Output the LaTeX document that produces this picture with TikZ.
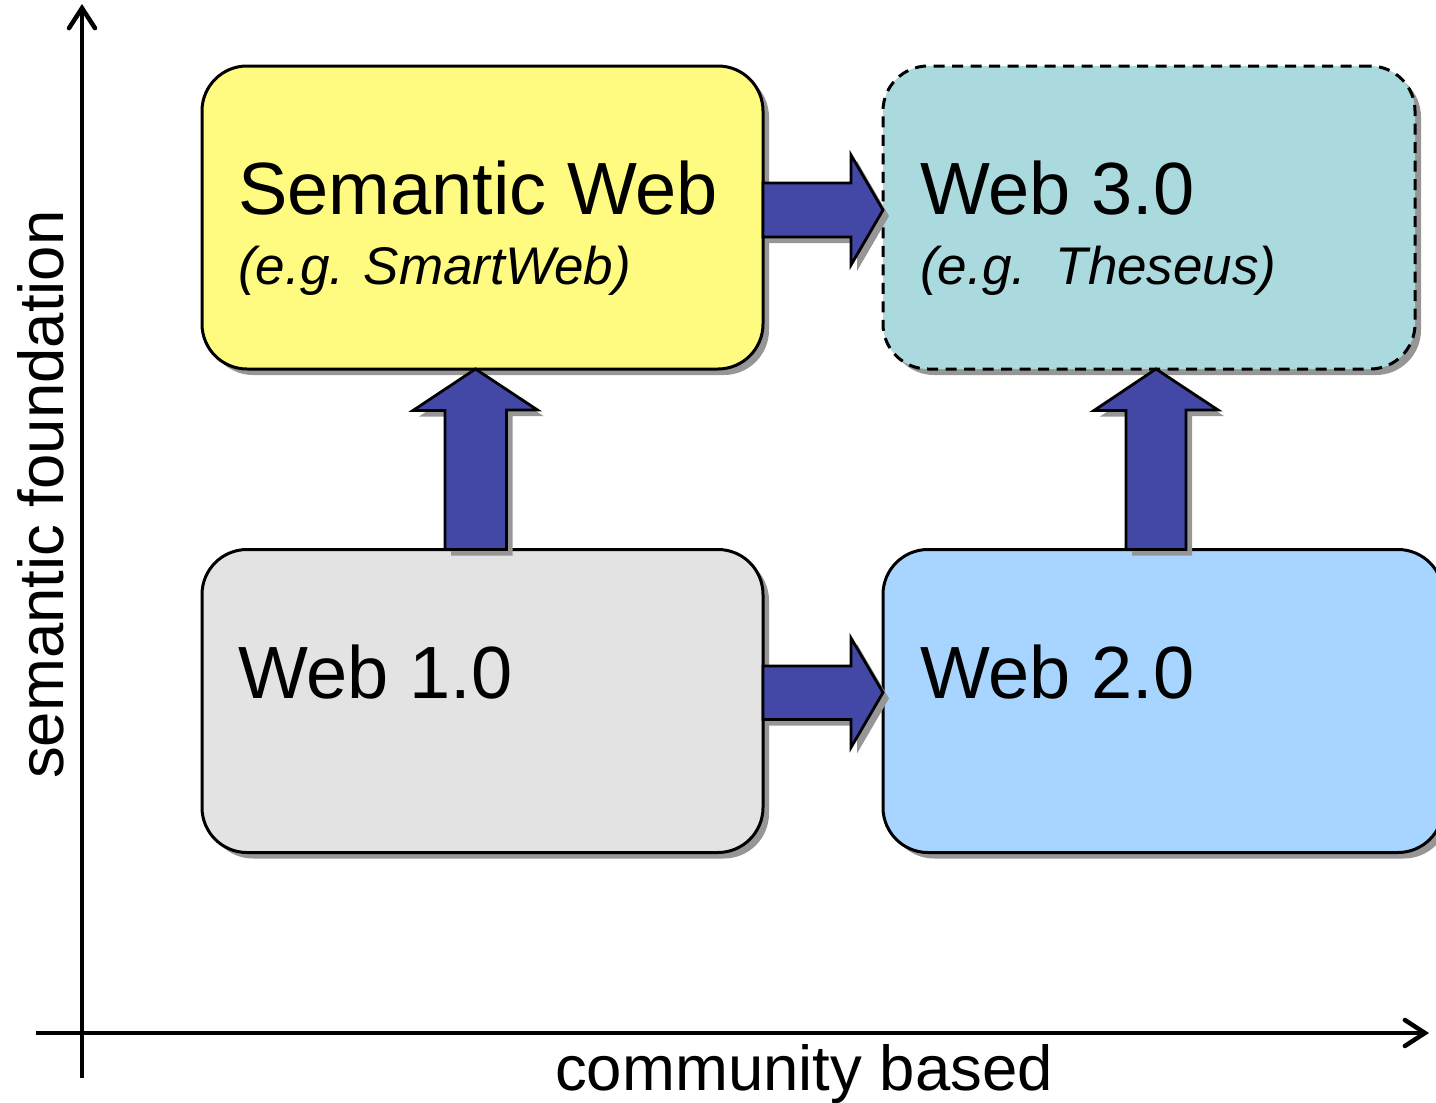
\documentclass[tikz,border=0pt]{standalone}
\usepackage{fontspec}
\setmainfont{Liberation Sans}
\usetikzlibrary{arrows.meta,shadows,calc}
\definecolor{semyellow}{RGB}{255,251,128}
\definecolor{webteal}{RGB}{170,218,222}
\definecolor{webgray}{RGB}{227,227,227}
\definecolor{webblue}{RGB}{168,213,255}
\definecolor{arrowblue}{RGB}{67,72,167}
\definecolor{shadowgray}{RGB}{150,150,150}
\begin{document}
\begin{tikzpicture}[x=1pt,y=-1pt,
  box/.style={draw=black, line width=3pt, rounded corners=45pt, inner sep=0pt, outer sep=0pt,
    minimum height=303pt,
    drop shadow={shadow xshift=6pt, shadow yshift=-6pt, fill=shadowgray, opacity=1}},
  blockarrow/.style={draw=black, fill=arrowblue, line width=2.8pt, line join=miter,
    drop shadow={shadow xshift=6pt, shadow yshift=-6pt, fill=shadowgray, opacity=1}},
  axis/.style={line width=4.5pt, -{Straight Barb[length=20pt,width=26pt,line cap=round]}},
  bigtxt/.style={anchor=base west, inner sep=0pt, font=\fontsize{74}{80}\selectfont},
  smalltxt/.style={anchor=base west, inner sep=0pt, font=\fontsize{53}{60}\selectfont\itshape},
  axtxt/.style={anchor=base west, inner sep=0pt, font=\fontsize{63.5}{70}\selectfont}]
\clip (0,0) rectangle (1436,1103);

% axes
\coordinate (ybot) at (82,1078);
\coordinate (ytop) at (82,4);
\coordinate (xl) at (36,1033);
\coordinate (xr) at (1429,1033);
\draw[axis] (ybot) -- (ytop);
\draw[axis] (xl) -- (xr);
\node[axtxt, rotate=90] (ylab) at (63,779) {semantic foundation};
\node[axtxt] (xlab) at (555,1090) {community based};

% boxes
\node[box, fill=semyellow, minimum width=561pt] (sw) at (482.5,217.5) {};
\node[box, fill=webteal, dash pattern=on 11pt off 7.5pt, minimum width=532pt] (w3) at (1149,217.5) {};
\node[box, fill=webgray, minimum width=561pt] (w1) at (482.5,701) {};
\node[box, fill=webblue, minimum width=560pt] (w2) at (1163,701) {};

% block arrows
\draw[blockarrow] ($(sw.east)+(0,-34.5)$) -- ++(88,0) -- ++(0,-28) -- ($(w3.west)+(0,-7.5)$)
  -- ++(-32,55) -- ++(0,-28) -- ($(sw.east)+(0,19.5)$) -- cycle;
\draw[blockarrow] ($(w1.east)+(0,-35)$) -- ++(88,0) -- ++(0,-28) -- ($(w2.west)+(0,-8.5)$)
  -- ++(-32,55) -- ++(0,-28) -- ($(w1.east)+(0,18.5)$) -- cycle;
\draw[blockarrow] ($(w1.north)+(-37.5,0)$) -- ++(0,-139) -- ++(-32,0) -- ($(sw.south)+(-7,0)$)
  -- ++(62,41) -- ++(-31,0) -- ($(w1.north)+(24,0)$) -- cycle;
\draw[blockarrow] ($(w2.north)+(-37,0)$) -- ++(0,-139) -- ++(-32,0) -- ($(w3.south)+(7,0)$)
  -- ++(62,41) -- ++(-32,0) -- ($(w2.north)+(23,0)$) -- cycle;

% texts
\node[bigtxt] (t1) at (238,214) {Semantic Web};
\node[smalltxt] (t1b) at (238,284) {(e.g. SmartWeb)};
\node[bigtxt] (t3) at (920,214) {Web 3.0};
\node[smalltxt] (t3b) at (920,284) {(e.g.\ \ Theseus)};
\node[bigtxt] (t2) at (238,698) {Web 1.0};
\node[bigtxt] (t4) at (920,698) {Web 2.0};
\end{tikzpicture}
\end{document}
